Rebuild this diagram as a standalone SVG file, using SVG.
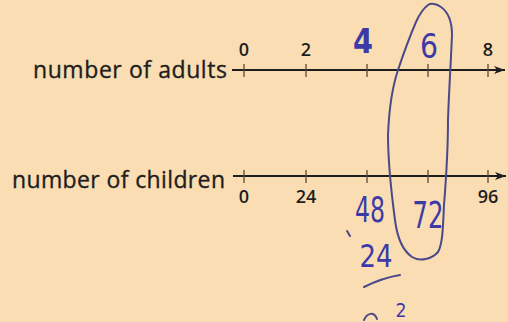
<svg xmlns="http://www.w3.org/2000/svg" width="508" height="322" viewBox="0 0 508 322">
<defs>
<style>
.lbl{font-family:"Open Sans","Liberation Sans",sans-serif;font-size:23px;fill:#1e1e1e;stroke:#1e1e1e;stroke-width:0.35}
.num{font-family:"Open Sans","Liberation Sans",sans-serif;font-size:18px;font-weight:600;fill:#1e1e1e;text-anchor:middle}
.axis{stroke:#1e1e1e;stroke-width:2;fill:none}
.tick{stroke:#5a4a3a;stroke-width:1.3}
.hw{font-family:"DejaVu Sans","Liberation Sans",sans-serif;fill:#3b3aa8;text-anchor:middle}
.ink{stroke:#4a4a8a;stroke-width:2;fill:none;stroke-linecap:round;stroke-linejoin:round}
</style>
<marker id="arr" markerWidth="12" markerHeight="10" refX="11" refY="5" orient="auto" markerUnits="userSpaceOnUse">
<path d="M0,1 L11,5 L0,9 L3,5 Z" fill="#1e1e1e"/>
</marker>
</defs>
<rect width="508" height="322" fill="#FADDB2"/>

<g id="adults">
<text class="lbl" x="227" y="78" text-anchor="end" textLength="194" lengthAdjust="spacing">number of adults</text>
<line class="axis" x1="232" y1="70" x2="505" y2="70" marker-end="url(#arr)"/>
<g class="tick">
<line x1="244" y1="64" x2="244" y2="77"/>
<line x1="306" y1="64" x2="306" y2="77"/>
<line x1="367" y1="64" x2="367" y2="77"/>
<line x1="428" y1="64" x2="428" y2="77"/>
<line x1="488" y1="64" x2="488" y2="77"/>
</g>
<text class="num" x="244" y="56">0</text>
<text class="num" x="306" y="56">2</text>
<text class="num" x="488" y="56">8</text>
</g>

<g id="children">
<text class="lbl" x="225" y="188" text-anchor="end" textLength="213" lengthAdjust="spacing">number of children</text>
<line class="axis" x1="233" y1="176" x2="506" y2="176" marker-end="url(#arr)"/>
<g class="tick">
<line x1="244" y1="170" x2="244" y2="183"/>
<line x1="306" y1="170" x2="306" y2="183"/>
<line x1="367" y1="170" x2="367" y2="183"/>
<line x1="428" y1="170" x2="428" y2="183"/>
<line x1="488" y1="170" x2="488" y2="183"/>
</g>
<text class="num" x="244" y="203">0</text>
<text class="num" x="306" y="203">24</text>
<text class="num" x="488" y="203">96</text>
</g>

<g id="handwriting">
<text class="hw" x="363" y="53" font-size="34" font-weight="bold" textLength="20" lengthAdjust="spacingAndGlyphs">4</text>
<text class="hw" x="429" y="58" font-size="34" textLength="18" lengthAdjust="spacingAndGlyphs">6</text>
<text class="hw" x="370" y="222" font-size="36" textLength="30" lengthAdjust="spacingAndGlyphs">48</text>
<text class="hw" x="428" y="228" font-size="37" textLength="31" lengthAdjust="spacingAndGlyphs">72</text>
<text class="hw" x="376" y="267" font-size="32" textLength="33" lengthAdjust="spacingAndGlyphs">24</text>
<text class="hw" x="401" y="317" font-size="19" textLength="11" lengthAdjust="spacingAndGlyphs">2</text>
</g>

<g id="connectors">
<path class="ink" d="M428,5 C424,8 420,13 416,22 C410,36 404,52 398,70 C392,88 389,110 388,135 C388,160 391,190 395,220 C397,236 402,250 412,257 C420,262 432,259 438,252 C443,243 443,225 444,205 C446,180 448,150 448,120 C449,90 451,60 452,35 C452,22 448,12 441,7 C436,4 431,3 428,5 Z"/>
<path class="ink" d="M364,287 C374,282 388,277 400,275"/>
<path class="ink" d="M347,231 L350,236"/>
<path class="ink" d="M364,320 C367,313 374,311 377,319"/>
</g>
</svg>
